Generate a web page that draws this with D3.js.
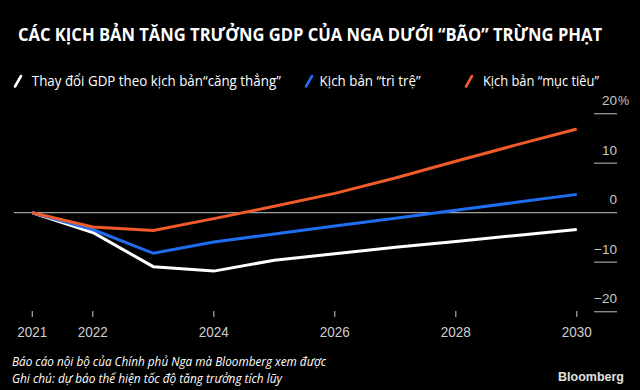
<!DOCTYPE html>
<html><head><meta charset="utf-8">
<script src="https://cdn.jsdelivr.net/npm/d3@7"></script>
<style>
html,body{margin:0;padding:0;background:#000;}
svg{display:block;}
</style></head>
<body>
<script>
const years = [2021, 2022, 2023, 2024, 2025, 2026, 2027, 2028, 2029, 2030];
const stressValues = [0, -4.0, -10.9, -11.8, -9.6, -8.3, -7.0, -5.8, -4.6, -3.4];
const stagnationValues = [0, -3.4, -8.2, -5.9, -4.3, -2.7, -1.1, 0.5, 2.1, 3.7];
const targetValues = [0, -2.9, -3.6, -1.2, 1.3, 3.9, 7.0, 10.4, 13.7, 16.9];
const seriesNames = ["Thay đổi GDP theo kịch bản“căng thẳng”", "Kịch bản “trì trệ”", "Kịch bản “mục tiêu”"];
const xTickYears = [2021, 2022, 2024, 2026, 2028, 2030];
const yTickValues = [20, 10, 0, -10, -20];
const titleText = "CÁC KỊCH BẢN TĂNG TRƯỞNG GDP CỦA NGA DƯỚI “BÃO” TRỪNG PHẠT";
const noteLines = ["Báo cáo nội bộ của Chính phủ Nga mà Bloomberg xem được", "Ghi chú: dự báo thể hiện tốc độ tăng trưởng tích lũy"];
const sourceText = "Bloomberg";

const W = 640, H = 390;
const colors = ["#ffffff", "#1f6ef2", "#f15a29"];
const svg = d3.select("body").append("svg").attr("width", W).attr("height", H)
  .style("background", "#000");
const font = "'Open Sans', 'Liberation Sans', sans-serif";

const x = d3.scaleLinear().domain([2021, 2030]).range([32.3, 576.8]);
const y = d3.scaleLinear().domain([-20, 20]).range([311.7, 113.7]);

// title
svg.append("text").attr("x", 18).attr("y", 41).text(titleText)
  .attr("fill", "#fff").attr("font-family", font).attr("font-weight", 700)
  .attr("font-size", 17.5).attr("textLength", 584).attr("lengthAdjust", "spacingAndGlyphs");

// legend
const legendPos = [{sx: 14, tx: 31.8, tw: 249}, {sx: 305, tx: 319.6, tw: 101}, {sx: 465, tx: 482.9, tw: 116}];
seriesNames.forEach((n, i) => {
  const p = legendPos[i];
  svg.append("line").attr("x1", p.sx + 1).attr("y1", 86.5).attr("x2", p.sx + 7).attr("y2", 76)
    .attr("stroke", colors[i]).attr("stroke-width", 2.6).attr("stroke-linecap", "round");
  svg.append("text").attr("x", p.tx).attr("y", 86).text(n)
    .attr("fill", "#fff").attr("font-family", font).attr("font-size", 14)
    .attr("textLength", p.tw).attr("lengthAdjust", "spacingAndGlyphs");
});

// y ticks
yTickValues.forEach(v => {
  if (v !== 0) {
    svg.append("line").attr("x1", 594).attr("x2", 617).attr("y1", y(v)).attr("y2", y(v))
      .attr("stroke", "#8a8a8a").attr("stroke-width", 1.4);
  }
  svg.append("text").attr("x", 617).attr("y", y(v) - 8.5).attr("text-anchor", "end")
    .text(d3.format("")(v).replace("-", "-")).attr("fill", "#c8c8c8")
    .attr("font-family", "'Liberation Sans', sans-serif").attr("font-size", 13.5);
  if (v === 20) {
    svg.append("text").attr("x", 618).attr("y", y(v) - 8.5).text("%")
      .attr("fill", "#c8c8c8").attr("font-family", "'Liberation Sans', sans-serif").attr("font-size", 12.5);
  }
});
// zero line
svg.append("line").attr("x1", 14).attr("x2", 617).attr("y1", y(0)).attr("y2", y(0))
  .attr("stroke", "#a0a0a0").attr("stroke-width", 1.3);

// x axis ticks
xTickYears.forEach(t => {
  svg.append("line").attr("x1", x(t)).attr("x2", x(t)).attr("y1", 311).attr("y2", 317)
    .attr("stroke", "#aaa").attr("stroke-width", 1.2);
  svg.append("text").attr("x", x(t)).attr("y", 336.5).attr("text-anchor", "middle").text(t)
    .attr("fill", "#cfcfcf").attr("font-family", "'Liberation Sans', sans-serif").attr("font-size", 14.5)
    .attr("textLength", 30).attr("lengthAdjust", "spacingAndGlyphs");
});

// lines
const line = d3.line().x((d, i) => x(years[i])).y(d => y(d));
[stressValues, stagnationValues, targetValues].forEach((s, i) => {
  svg.append("path").attr("d", line(s)).attr("fill", "none")
    .attr("stroke", colors[i]).attr("stroke-width", 3).attr("stroke-linejoin", "miter");
});

// notes
const noteW = [314, 270];
noteLines.forEach((t, i) => {
  svg.append("text").attr("x", 12).attr("y", 366 + i * 17).text(t)
    .attr("fill", "#fff").attr("font-family", font).attr("font-style", "italic")
    .attr("font-size", 12.5).attr("textLength", noteW[i]).attr("lengthAdjust", "spacingAndGlyphs");
});
svg.append("text").attr("x", 624).attr("y", 381).attr("text-anchor", "end").text(sourceText)
  .attr("fill", "#e0e0e0").attr("font-family", "'Liberation Sans', sans-serif").attr("font-weight", 700)
  .attr("font-size", 13.5).attr("textLength", 66).attr("lengthAdjust", "spacingAndGlyphs");
</script>
</body></html>
